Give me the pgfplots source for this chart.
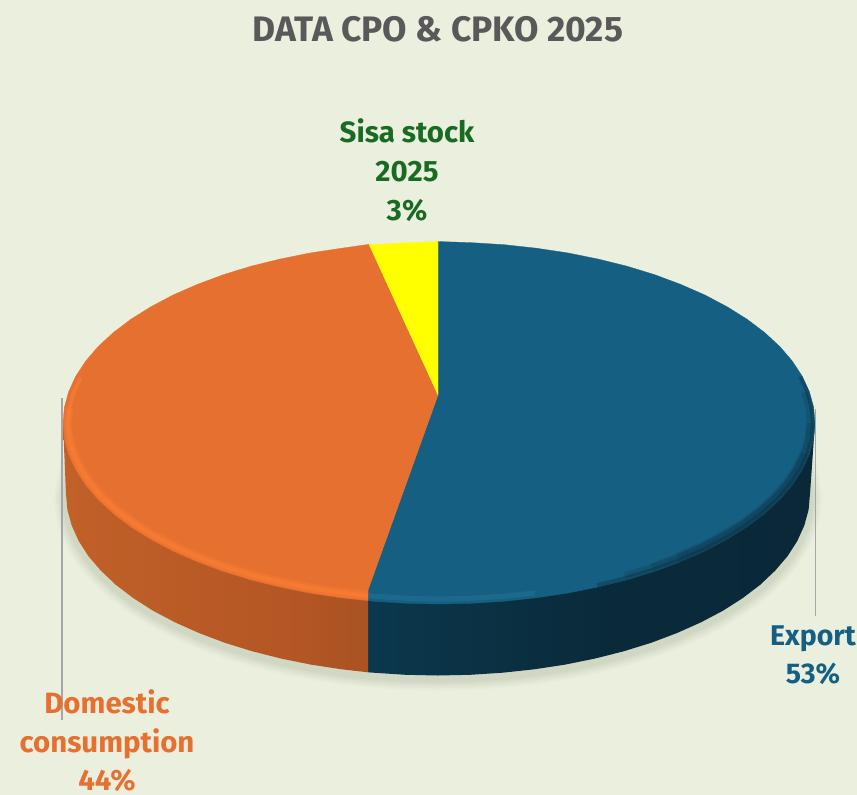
\documentclass[border=0pt]{standalone}
\usepackage{fontspec}
\setmainfont{Fira Sans}
\usepackage{pgfplots}
\usepackage{pgfplotstable}
\pgfplotsset{compat=1.18}
\definecolor{bg}{HTML}{EBF0DE}
\definecolor{cblue}{HTML}{156082}
\definecolor{corange}{HTML}{E6702F}
\definecolor{cyellow}{HTML}{FFFF00}
\definecolor{cgreen}{HTML}{196B24}
\definecolor{ctitle}{HTML}{595959}
\definecolor{cbevelo}{HTML}{FF7F36}
\definecolor{cbevelb}{HTML}{2A7CA0}
\definecolor{shA}{HTML}{E7ECDA}
\definecolor{shB}{HTML}{E2E7D5}
\definecolor{shC}{HTML}{DCE2CF}
\definecolor{shD}{HTML}{D6DCC9}
\definecolor{shE}{HTML}{D0D7C3}
\definecolor{ORa}{HTML}{CC672A}
\definecolor{ORb}{HTML}{C05F28}
\definecolor{ORc}{HTML}{B45724}
\definecolor{ORd}{HTML}{974A20}
\definecolor{BLa}{HTML}{0F4662}
\definecolor{BLb}{HTML}{0B3549}
\definecolor{BLc}{HTML}{0A2A3A}
\definecolor{BLd}{HTML}{0A2635}
\pgfdeclarehorizontalshading{orangeside}{100bp}{color(0bp)=(ORa);color(29bp)=(ORb);color(61bp)=(ORc);color(100bp)=(ORd)}
\pgfdeclarehorizontalshading{blueside}{100bp}{color(0bp)=(BLa);color(30bp)=(BLb);color(52bp)=(BLc);color(100bp)=(BLd)}
% bottom rim of the pie, continued behind it so the shadow has no visible ends
\pgfplotstableread{
x y
787.6 432
804.3 462.5
810 494
808.6 509.8
804.3 525.5
797.3 541
787.6 556.1
775.1 570.7
760.2 584.8
742.7 598.1
723 610.7
701 622.3
677.1 633
651.4 642.7
624 651.2
595.2 658.5
565.2 664.6
534.3 669.3
502.6 672.7
470.4 674.8
438 675.5
405.6 674.8
373.4 672.7
341.7 669.3
310.8 664.6
280.8 658.5
252 651.2
224.6 642.7
198.9 633
175 622.3
153 610.7
133.3 598.1
115.8 584.8
100.9 570.7
88.4 556.1
78.7 541
71.7 525.5
67.4 509.8
66 494
71.7 462.5
88.4 432
}\rimbottom
\pgfplotstableread{
x y
815 423
810 494
808.6 509.8
804.3 525.5
797.3 541
787.6 556.1
775.1 570.7
760.2 584.8
742.7 598.1
723 610.7
701 622.3
677.1 633
651.4 642.7
624 651.2
595.2 658.5
565.2 664.6
534.3 669.3
502.6 672.7
470.4 674.8
438 675.5
405.6 674.8
373.4 672.7
368 672.3
368 590
}\sideblue
\pgfplotstableread{
x y
368 590
368 672.3
341.7 669.3
310.8 664.6
280.8 658.5
252 651.2
224.6 642.7
198.9 633
175 622.3
153 610.7
133.3 598.1
115.8 584.8
100.9 570.7
88.4 556.1
78.7 541
71.7 525.5
67.4 509.8
66 494
63 423
}\sideorange
\pgfplotstableread{
x y
438 395
368 590
368 600.5
373.7 601.3
406.2 603.3
439 604
471.8 603.3
504.3 601.3
536.3 597.8
567.6 593.1
597.9 587
627 579.8
654.7 571.3
680.7 561.6
704.9 551
727 539.3
747 526.8
764.6 513.5
779.8 499.5
792.3 484.9
802.2 469.8
809.3 454.4
813.6 438.8
815 423
813.6 407.2
809.3 391.6
802.2 376.2
792.3 361.1
779.8 346.5
764.6 332.5
747 319.2
727 306.7
704.9 295
680.7 284.4
654.7 274.7
627 266.2
597.9 259
567.6 252.9
536.3 248.2
504.3 244.7
471.8 242.7
438 241.5
}\faceblue
\pgfplotstableread{
x y
438 395
368 590
368 600.5
341.7 597.8
310.4 593.1
280.1 587
251 579.8
223.3 571.3
197.3 561.6
173.1 551
151 539.3
131 526.8
113.4 513.5
98.2 499.5
85.7 484.9
75.8 469.8
68.7 454.4
64.4 438.8
63 423
64.4 407.2
68.7 391.6
75.8 376.2
85.7 361.1
98.2 346.5
113.4 332.5
131 319.2
151 306.7
173.1 295
197.3 284.4
223.3 274.7
251 266.2
280.1 259
310.4 252.9
341.7 248.2
369 244.3
}\faceorange
\pgfplotstableread{
x y
438 395
369 244.3
373.7 244.7
406.2 242.7
438 241.5
}\faceyellow
% bevel lines just inside the rim
\pgfplotstableread{
x y
800.3 376.7
807.3 391.9
811.6 407.4
813 423
811.6 438.6
807.3 454.1
800.3 469.3
790.4 484.2
778 498.6
762.9 512.5
745.4 525.7
725.5 538.1
703.5 549.6
679.4 560.1
653.5 569.6
626 578
597.1 585.2
}\bevelblueedge
\pgfplotstableread{
x y
775.2 348.6
787.6 362.8
797.3 377.4
804.4 392.4
808.6 407.7
810 423
808.6 438.3
804.4 453.6
797.3 468.6
787.6 483.2
775.2 497.4
760.3 511
742.9 524
723.2 536.1
701.3 547.5
677.5 557.8
651.8 567.2
624.5 575.4
595.8 582.5
}\bevelbluein
\pgfplotstableread{
x y
535 593
503.4 596.3
471.4 598.3
439 599
406.6 598.3
374.6 596.3
368.5 595.6
}\bevelbluelight
\pgfplotstableread{
x y
368 595.6
343 593
312.1 588.4
282.2 582.5
253.5 575.4
226.2 567.2
200.5 557.8
176.7 547.5
154.8 536.1
135.1 524
117.7 511
102.8 497.4
90.4 483.2
80.7 468.6
73.6 453.6
69.4 438.3
68 423
69.4 407.7
73.6 392.4
80.7 377.4
}\bevelorange
\begin{document}
\begin{tikzpicture}
\begin{axis}[
  scale only axis, width=857pt, height=795pt,
  xmin=0, xmax=857, ymin=0, ymax=795, y dir=reverse,
  ticks=none, axis line style={draw=none},
  axis background/.style={fill=bg},
  clip=true,
  every axis plot/.append style={line join=round, line cap=butt},
]
% shadow
\addplot[draw=shA, line width=24pt, yshift=-3pt, forget plot] table {\rimbottom};
\addplot[draw=shB, line width=20pt, yshift=-3pt, forget plot] table {\rimbottom};
\addplot[draw=shC, line width=16pt, yshift=-3pt, forget plot] table {\rimbottom};
\addplot[draw=shD, line width=12pt, yshift=-3pt, forget plot] table {\rimbottom};
\addplot[draw=shE, line width=8pt, yshift=-3pt, forget plot] table {\rimbottom};
% sides
\addplot[shade, shading=blueside, draw=none, forget plot] table {\sideblue};
\addplot[shade, shading=orangeside, draw=none, forget plot] table {\sideorange};
% faces
\addplot[fill=cblue, draw=cblue, line width=0.3pt, forget plot] table {\faceblue} -- cycle;
\addplot[fill=corange, draw=corange, line width=0.3pt, forget plot] table {\faceorange} -- cycle;
\addplot[fill=cyellow, draw=cyellow, line width=0.3pt, forget plot] table {\faceyellow} -- cycle;
% bevel
\addplot[draw=BLd, line width=10pt, draw opacity=0.12, skip coords between index={0}{7}, skip coords between index={16}{30}, forget plot] table {\bevelbluein};
\addplot[draw=BLd, line width=8pt, draw opacity=0.15, skip coords between index={0}{5}, skip coords between index={17}{30}, forget plot] table {\bevelbluein};
\addplot[draw=BLd, line width=6pt, draw opacity=0.2, skip coords between index={0}{3}, skip coords between index={18}{30}, forget plot] table {\bevelbluein};
\addplot[draw=BLd, line width=4pt, draw opacity=0.35, forget plot] table {\bevelblueedge};
\addplot[draw=cbevelb, line width=5pt, draw opacity=0.35, forget plot] table {\bevelbluelight};
\addplot[draw=cbevelo, line width=11pt, draw opacity=0.15, skip coords between index={16}{30}, forget plot] table {\bevelorange};
\addplot[draw=cbevelo, line width=8pt, draw opacity=0.3, skip coords between index={18}{30}, forget plot] table {\bevelorange};
\addplot[draw=cbevelo, line width=4pt, draw opacity=0.55, forget plot] table {\bevelorange};
% leader lines
\addplot[draw=black!35, line width=1.3pt, forget plot] coordinates {(62,398) (62,720)};
\addplot[draw=black!35, line width=1.3pt, forget plot] coordinates {(815.7,409) (815.7,615.5)};
% labels
\node[text=ctitle, font=\fontsize{35.4}{40}\selectfont\bfseries] at (axis cs:438,29) {DATA CPO \& CPKO 2025};
\node[text=cgreen, font=\fontsize{29.4}{39}\selectfont\bfseries, align=center] at (axis cs:407,170) {Sisa stock\\2025\\3\%};
\node[text=cblue, font=\fontsize{28.5}{38}\selectfont\bfseries, align=center] at (axis cs:813,655.5) {Export\\53\%};
\node[text=corange, font=\fontsize{29.4}{38.5}\selectfont\bfseries, align=center] at (axis cs:107,741) {Domestic\\consumption\\44\%};
\end{axis}
\end{tikzpicture}
\end{document}
